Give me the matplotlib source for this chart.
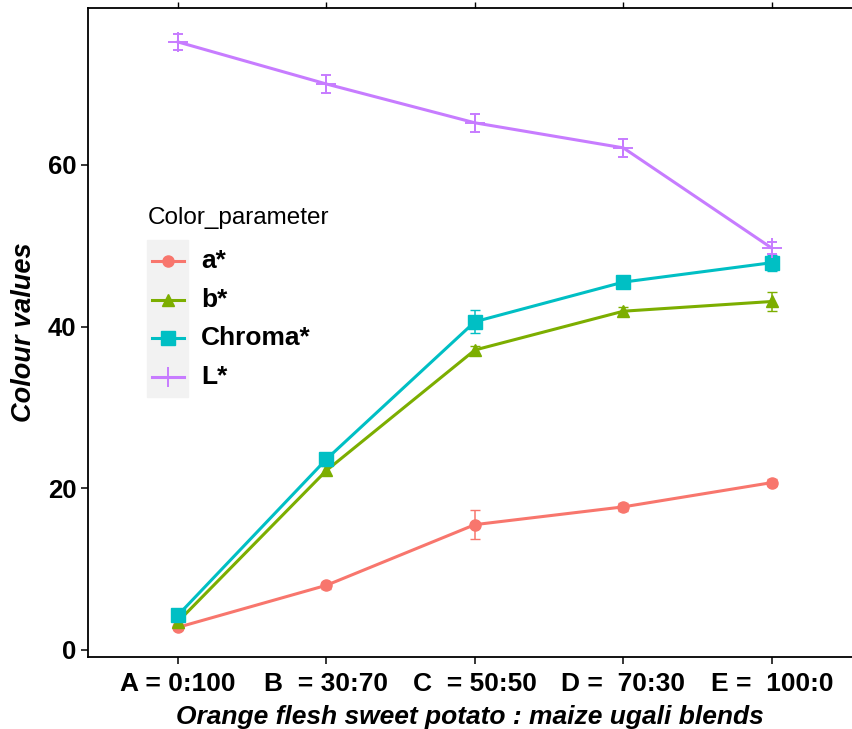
import numpy as np
import matplotlib
matplotlib.use("Agg")
import matplotlib.pyplot as plt
from matplotlib.lines import Line2D
from matplotlib.patches import Rectangle

plt.rcParams["font.family"] = ["Liberation Sans", "DejaVu Sans"]

BLENDS = ["A = 0:100", "B  = 30:70", "C  = 50:50", "D =  70:30", "E =  100:0"]
PARAMS = ["a*", "b*", "Chroma*", "L*"]

A_STAR = [2.8, 8.0, 15.5, 17.7, 20.7]
A_ERR = [0.3, 0.4, 1.8, 0.5, 0.4]
B_STAR = [3.5, 22.2, 37.1, 41.9, 43.1]
B_ERR = [0.3, 0.5, 0.5, 0.5, 1.2]
CHROMA = [4.3, 23.6, 40.6, 45.5, 47.9]
CHROMA_ERR = [0.3, 0.6, 1.4, 0.5, 1.0]
L_STAR = [75.2, 70.0, 65.2, 62.1, 49.7]
L_ERR = [1.0, 1.1, 1.1, 1.1, 0.7]

COLORS = ["#F8766D", "#7CAE00", "#00BFC4", "#C77CFF"]
MARKERS = ["o", "^", "s", "+"]
MSIZES = [8, 9, 9.5, 15]

W, H = 852, 729
fig = plt.figure(figsize=(W / 100, H / 100), dpi=100)
ax = fig.add_axes([88 / W, 1 - 657 / H, 1 - 88 / W, (657 - 8) / H])

x = np.arange(1, len(BLENDS) + 1)
series = [(A_STAR, A_ERR), (B_STAR, B_ERR), (CHROMA, CHROMA_ERR), (L_STAR, L_ERR)]
for (vals, errs), col, mk, ms in zip(series, COLORS, MARKERS, MSIZES):
    ax.errorbar(x, vals, yerr=errs, color=col, lw=2.2, marker=mk, ms=ms,
                mew=1.4 if mk == "+" else 1, elinewidth=1.1, capsize=3.5,
                capthick=1.1, zorder=3)

ax.set_xlim(0.394, 5.54)
ax.set_ylim(-0.87, 79.4)
ax.set_xticks(x)
ax.set_xticklabels(BLENDS)
ax.set_yticks([0, 20, 40, 60])

ax.spines["right"].set_visible(False)
for s in ["left", "bottom", "top"]:
    ax.spines[s].set_linewidth(1.3)
ax.tick_params(axis="both", direction="out", length=5, width=1.1)
ax.tick_params(axis="y", labelsize=18.5)
ax.tick_params(axis="x", labelsize=19, pad=6)
for lab in ax.get_xticklabels() + ax.get_yticklabels():
    lab.set_fontweight("bold")
# the thin white notches on the top border
ax.tick_params(axis="x", top=True)
for t in ax.xaxis.get_major_ticks():
    t.tick2line.set_color("white")
    t.tick2line.set_markersize(4)
    t.tick2line.set_markeredgewidth(1)

ax.set_xlabel("Orange flesh sweet potato : maize ugali blends", fontsize=19,
              fontweight="bold", fontstyle="italic", labelpad=6)
ax.set_ylabel("Colour values", fontsize=19.5, fontweight="bold",
              fontstyle="italic", labelpad=8)


# legend, drawn by hand so the grey key strip matches
def fx(px):
    return px / W


def fy(py):
    return 1 - py / H


fig.text(fx(148), fy(218), "Color_parameter", fontsize=17.5, va="center", ha="left")
fig.patches.append(Rectangle((fx(147), fy(397)), fx(188) - fx(147), fy(240) - fy(397),
                             transform=fig.transFigure, color="#F2F2F2", zorder=1))
for i, (name, col, mk, ms) in enumerate(zip(PARAMS, COLORS, MARKERS, MSIZES)):
    yy = fy(261 + i * 38.7)
    fig.lines.append(Line2D([fx(152), fx(184)], [yy, yy], transform=fig.transFigure,
                            color=col, lw=2.2, zorder=2))
    fig.lines.append(Line2D([fx(168)], [yy], transform=fig.transFigure, color=col,
                            marker=mk, ms=ms, mew=1.4 if mk == "+" else 1, zorder=2))
    fig.text(fx(201), yy, name, fontsize=19, fontweight="bold", va="center", ha="left")

fig.savefig("out.png", dpi=100)
